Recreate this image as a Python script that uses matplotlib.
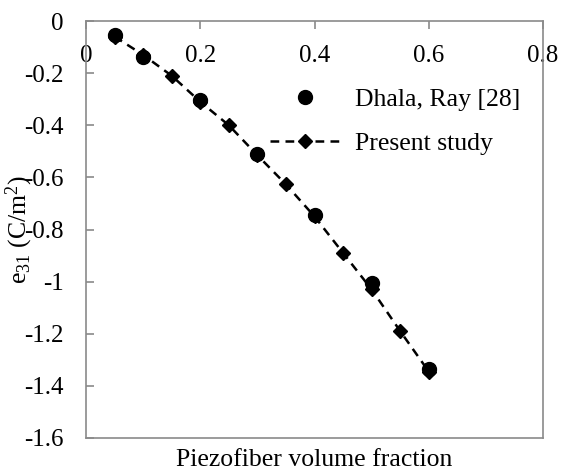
import matplotlib
matplotlib.use("Agg")
import matplotlib.pyplot as plt

plt.rcParams['font.family'] = ['Liberation Serif', 'DejaVu Serif']
plt.rcParams['mathtext.fontset'] = 'custom'
plt.rcParams['mathtext.rm'] = 'Liberation Serif'
plt.rcParams['mathtext.it'] = 'Liberation Serif'

# Data
dhala_x = [0.05, 0.1, 0.2, 0.3, 0.4, 0.5, 0.6]
dhala_y = [-0.055, -0.14, -0.305, -0.51, -0.745, -1.005, -1.335]
present_x = [0.05, 0.1, 0.15, 0.2, 0.25, 0.3, 0.35, 0.4, 0.45, 0.5, 0.55, 0.6]
present_y = [-0.06, -0.13, -0.21, -0.31, -0.40, -0.515, -0.627, -0.75, -0.89, -1.03, -1.19, -1.345]
x_ticks = [0, 0.2, 0.4, 0.6, 0.8]
x_ticklabels = ['0', '0.2', '0.4', '0.6', '0.8']
y_ticks = [0, -0.2, -0.4, -0.6, -0.8, -1.0, -1.2, -1.4, -1.6]
y_ticklabels = ['0', '-0.2', '-0.4', '-0.6', '-0.8', '-1', '-1.2', '-1.4', '-1.6']

fig = plt.figure(figsize=(5.62, 4.74), dpi=100)
ax = fig.add_axes([86/562, 36/474, 457/562, 417/474])

ax.plot(dhala_x, dhala_y, linestyle='none', marker='o', ms=10, color='black',
        label='Dhala, Ray [28]', zorder=3)
ax.plot(present_x, present_y, linestyle=(0, (3.5, 2.5)), lw=1.8, marker='D', ms=7.5,
        color='black', label='Present study', zorder=4)

ax.set_xlim(0, 0.8)
ax.set_ylim(-1.6, 0)
ax.set_xticks(x_ticks)
ax.set_xticklabels(x_ticklabels)
ax.set_yticks(y_ticks)
ax.set_yticklabels(y_ticklabels)

for s in ax.spines.values():
    s.set_color('#8a8a8a')
    s.set_linewidth(1.2)

ax.tick_params(axis='x', top=True, bottom=False, labeltop=True, labelbottom=False,
               direction='in', length=6, width=1.2, color='#8a8a8a', pad=-33,
               labelsize=18)
ax.tick_params(axis='y', direction='in', length=6, width=1.2, color='#8a8a8a',
               pad=16, labelsize=18)

ax.set_xlabel('Piezofiber volume fraction', fontsize=18.5, labelpad=8)
ax.set_ylabel(r'e$_{31}$ (C/m$^2$)', fontsize=18.5, labelpad=-8)

ax.legend(loc='upper left', bbox_to_anchor=((270-86)/457, (438-88)/417),
          frameon=False, fontsize=18.5, handlelength=2.7, handletextpad=0.6,
          borderpad=0, borderaxespad=0, labelspacing=0.83, numpoints=1)

fig.savefig('out.png', dpi=100)
